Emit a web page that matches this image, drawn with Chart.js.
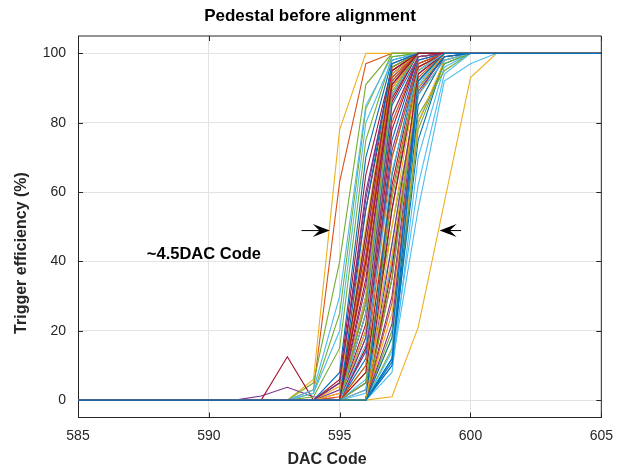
<!DOCTYPE html>
<html>
<head>
<meta charset="utf-8">
<title>Pedestal before alignment</title>
<script src="https://cdn.jsdelivr.net/npm/chart.js@4.4.1/dist/chart.umd.min.js"></script>
<style>
  html, body { margin: 0; padding: 0; background: #fff; }
  #wrap { width: 623px; height: 470px; }
</style>
</head>
<body>
<div id="wrap"><canvas id="chart"></canvas></div>
<script>
// DAC codes scanned (x) and axis ticks
const dacCodes = [585, 586, 587, 588, 589, 590, 591, 592, 593, 594, 595, 596, 597, 598, 599, 600, 601, 602, 603, 604, 605];
const xTicks = [585, 590, 595, 600, 605];
const yTicks = [0, 20, 40, 60, 80, 100];

// MATLAB default colour order, cycled over the channels
const lineColors = ['#0072BD', '#D95319', '#EDB120', '#7E2F8E', '#77AC30', '#4DBEEE', '#A2142F'];

// trigger efficiency (%) per channel, one value per DAC code
const efficiency = [
  [0, 0, 0, 0, 0, 0, 0, 0,   0, 0, 0, 30, 92, 100, 100, 100, 100, 100, 100, 100, 100],
  [0, 0, 0, 0, 0, 0, 0, 0,   0, 3, 63, 97, 100, 100, 100, 100, 100, 100, 100, 100, 100],
  [0, 0, 0, 0, 0, 0, 0, 0,   0, 6, 78, 100, 100, 100, 100, 100, 100, 100, 100, 100, 100],
  [0, 0, 0, 0, 0, 0, 0, 1.2, 3.7, 1, 0, 25, 88, 100, 100, 100, 100, 100, 100, 100, 100],
  [0, 0, 0, 0, 0, 0, 0, 0,   0, 5, 40, 91, 100, 100, 100, 100, 100, 100, 100, 100, 100],
  [0, 0, 0, 0, 0, 0, 0, 0,   0, 0, 0, 2, 35, 90, 100, 100, 100, 100, 100, 100, 100],
  [0, 0, 0, 0, 0, 0, 0, 0,   12.5, 0, 5, 55, 94, 100, 100, 100, 100, 100, 100, 100, 100],

  [0, 0, 0, 0, 0, 0, 0, 0,   0, 0, 0, 12, 75, 99, 100, 100, 100, 100, 100, 100, 100],
  [0, 0, 0, 0, 0, 0, 0, 0,   0, 0, 2, 45, 95, 100, 100, 100, 100, 100, 100, 100, 100],
  [0, 0, 0, 0, 0, 0, 0, 0,   0, 0, 0, 0, 1, 21, 57, 93, 100, 100, 100, 100, 100],
  [0, 0, 0, 0, 0, 0, 0, 0,   0, 0, 0, 5, 55, 94, 100, 100, 100, 100, 100, 100, 100],
  [0, 0, 0, 0, 0, 0, 0, 0,   0, 2, 25, 84, 100, 100, 100, 100, 100, 100, 100, 100, 100],
  [0, 0, 0, 0, 0, 0, 0, 0,   0, 0, 0, 0, 10, 55, 92, 97, 100, 100, 100, 100, 100],
  [0, 0, 0, 0, 0, 0, 0, 0,   0, 0, 0, 35, 90, 100, 100, 100, 100, 100, 100, 100, 100],

  [0, 0, 0, 0, 0, 0, 0, 0,   0, 0, 8, 70, 98, 100, 100, 100, 100, 100, 100, 100, 100],
  [0, 0, 0, 0, 0, 0, 0, 0,   0, 0, 0, 18, 80, 99, 100, 100, 100, 100, 100, 100, 100],
  [0, 0, 0, 0, 0, 0, 0, 0,   0, 0, 0, 8, 65, 96, 100, 100, 100, 100, 100, 100, 100],
  [0, 0, 0, 0, 0, 0, 0, 0,   0, 0, 3, 60, 95, 100, 100, 100, 100, 100, 100, 100, 100],
  [0, 0, 0, 0, 0, 0, 0, 0,   0, 0, 0, 10, 50, 88, 98, 100, 100, 100, 100, 100, 100],
  [0, 0, 0, 0, 0, 0, 0, 0,   0, 3, 30, 85, 99, 100, 100, 100, 100, 100, 100, 100, 100],
  [0, 0, 0, 0, 0, 0, 0, 0,   0, 0, 0, 22, 87, 100, 100, 100, 100, 100, 100, 100, 100],

  [0, 0, 0, 0, 0, 0, 0, 0,   0, 0, 0, 0, 12, 75, 98, 100, 100, 100, 100, 100, 100],
  [0, 0, 0, 0, 0, 0, 0, 0,   0, 0, 0, 3, 60, 95, 100, 100, 100, 100, 100, 100, 100],
  [0, 0, 0, 0, 0, 0, 0, 0,   0, 0, 4, 50, 96, 100, 100, 100, 100, 100, 100, 100, 100],
  [0, 0, 0, 0, 0, 0, 0, 0,   0, 0, 0, 0, 30, 90, 100, 100, 100, 100, 100, 100, 100],
  [0, 0, 0, 0, 0, 0, 0, 0,   0, 0, 0, 15, 70, 97, 100, 100, 100, 100, 100, 100, 100],
  [0, 0, 0, 0, 0, 0, 0, 0,   0, 0, 0, 0, 8, 70, 96, 100, 100, 100, 100, 100, 100],
  [0, 0, 0, 0, 0, 0, 0, 0,   0, 0, 6, 65, 96, 100, 100, 100, 100, 100, 100, 100, 100],

  [0, 0, 0, 0, 0, 0, 0, 0,   0, 0, 0, 40, 94, 100, 100, 100, 100, 100, 100, 100, 100],
  [0, 0, 0, 0, 0, 0, 0, 0,   0, 0, 0, 0, 40, 93, 100, 100, 100, 100, 100, 100, 100],
  [0, 0, 0, 0, 0, 0, 0, 0,   0, 0, 0, 0, 25, 85, 99, 100, 100, 100, 100, 100, 100],
  [0, 0, 0, 0, 0, 0, 0, 0,   0, 0, 0, 14, 72, 98, 100, 100, 100, 100, 100, 100, 100],
  [0, 0, 0, 0, 0, 0, 0, 0,   0, 1, 15, 75, 99, 100, 100, 100, 100, 100, 100, 100, 100],
  [0, 0, 0, 0, 0, 0, 0, 0,   0, 0, 0, 6, 45, 92, 100, 100, 100, 100, 100, 100, 100],
  [0, 0, 0, 0, 0, 0, 0, 0,   0, 0, 0, 28, 86, 100, 100, 100, 100, 100, 100, 100, 100],

  [0, 0, 0, 0, 0, 0, 0, 0,   0, 0, 0, 0, 10, 80, 97, 100, 100, 100, 100, 100, 100],
  [0, 0, 0, 0, 0, 0, 0, 0,   0, 0, 1, 38, 92, 100, 100, 100, 100, 100, 100, 100, 100],
  [0, 0, 0, 0, 0, 0, 0, 0,   0, 0, 0, 0, 50, 95, 100, 100, 100, 100, 100, 100, 100],
  [0, 0, 0, 0, 0, 0, 0, 0,   0, 0, 0, 0, 45, 92, 100, 100, 100, 100, 100, 100, 100],
  [0, 0, 0, 0, 0, 0, 0, 0,   0, 0, 0, 0, 20, 82, 95, 100, 100, 100, 100, 100, 100],
  [0, 0, 0, 0, 0, 0, 0, 0,   0, 2, 20, 80, 98, 100, 100, 100, 100, 100, 100, 100, 100],
  [0, 0, 0, 0, 0, 0, 0, 0,   0, 0, 0, 8, 62, 97, 100, 100, 100, 100, 100, 100, 100],

  [0, 0, 0, 0, 0, 0, 0, 0,   0, 0, 0, 20, 85, 99, 100, 100, 100, 100, 100, 100, 100],
  [0, 0, 0, 0, 0, 0, 0, 0,   0, 0, 0, 0, 35, 96, 100, 100, 100, 100, 100, 100, 100],
  [0, 0, 0, 0, 0, 0, 0, 0,   0, 0, 0, 30, 90, 100, 100, 100, 100, 100, 100, 100, 100],
  [0, 0, 0, 0, 0, 0, 0, 0,   0, 0, 5, 58, 97, 100, 100, 100, 100, 100, 100, 100, 100],
  [0, 0, 0, 0, 0, 0, 0, 0,   0, 0, 0, 0, 15, 78, 97, 100, 100, 100, 100, 100, 100],
  [0, 0, 0, 0, 0, 0, 0, 0,   0, 0, 0, 0, 12, 62, 94, 100, 100, 100, 100, 100, 100],
  [0, 0, 0, 0, 0, 0, 0, 0,   0, 0, 0, 0, 55, 96, 100, 100, 100, 100, 100, 100, 100],

  [0, 0, 0, 0, 0, 0, 0, 0,   0, 0, 0, 0, 11, 85, 99, 100, 100, 100, 100, 100, 100],
  [0, 0, 0, 0, 0, 0, 0, 0,   0, 0, 0, 25, 88, 100, 100, 100, 100, 100, 100, 100, 100],
  [0, 0, 0, 0, 0, 0, 0, 0,   0, 0, 0, 0, 18, 80, 98, 100, 100, 100, 100, 100, 100],
  [0, 0, 0, 0, 0, 0, 0, 0,   0, 0, 0, 45, 93, 100, 100, 100, 100, 100, 100, 100, 100],
  [0, 0, 0, 0, 0, 0, 0, 0,   0, 0, 0, 5, 58, 95, 100, 100, 100, 100, 100, 100, 100],
  [0, 0, 0, 0, 0, 0, 0, 0,   0, 0, 0, 3, 40, 91, 100, 100, 100, 100, 100, 100, 100],
  [0, 0, 0, 0, 0, 0, 0, 0,   0, 0, 0, 15, 78, 99, 100, 100, 100, 100, 100, 100, 100],

  [0, 0, 0, 0, 0, 0, 0, 0,   0, 0, 0, 0, 65, 98, 100, 100, 100, 100, 100, 100, 100],
  [0, 0, 0, 0, 0, 0, 0, 0,   0, 0, 0, 0, 28, 88, 100, 100, 100, 100, 100, 100, 100],
  [0, 0, 0, 0, 0, 0, 0, 0,   0, 0, 2, 42, 94, 100, 100, 100, 100, 100, 100, 100, 100],
  [0, 0, 0, 0, 0, 0, 0, 0,   0, 0, 0, 0, 22, 89, 99, 100, 100, 100, 100, 100, 100],
  [0, 0, 0, 0, 0, 0, 0, 0,   0, 0, 0, 48, 96, 100, 100, 100, 100, 100, 100, 100, 100],
  [0, 0, 0, 0, 0, 0, 0, 0,   0, 0, 0, 0, 14, 88, 98, 100, 100, 100, 100, 100, 100],
  [0, 0, 0, 0, 0, 0, 0, 0,   0, 0, 0, 0, 38, 94, 100, 100, 100, 100, 100, 100, 100],

  [0, 0, 0, 0, 0, 0, 0, 0,   0, 0, 0, 0, 12, 90, 99, 100, 100, 100, 100, 100, 100],
  [0, 0, 0, 0, 0, 0, 0, 0,   0, 0, 0, 42, 93, 100, 100, 100, 100, 100, 100, 100, 100],
  [0, 0, 0, 0, 0, 0, 0, 0,   0, 0, 0, 20, 82, 99, 100, 100, 100, 100, 100, 100, 100],
  [0, 0, 0, 0, 0, 0, 0, 0,   0, 0, 0, 33, 91, 100, 100, 100, 100, 100, 100, 100, 100],
  [0, 0, 0, 0, 0, 0, 0, 0,   0, 0, 0, 0, 35, 92, 100, 100, 100, 100, 100, 100, 100],
  [0, 0, 0, 0, 0, 0, 0, 0,   0, 0, 0, 25, 88, 100, 100, 100, 100, 100, 100, 100, 100],
  [0, 0, 0, 0, 0, 0, 0, 0,   0, 0, 0, 48, 95, 100, 100, 100, 100, 100, 100, 100, 100],

  [0, 0, 0, 0, 0, 0, 0, 0,   0, 0, 0, 55, 97, 100, 100, 100, 100, 100, 100, 100, 100],
  [0, 0, 0, 0, 0, 0, 0, 0,   0, 0, 0, 10, 70, 97, 100, 100, 100, 100, 100, 100, 100],
  [0, 0, 0, 0, 0, 0, 0, 0,   0, 0, 0, 0, 42, 90, 100, 100, 100, 100, 100, 100, 100],
  [0, 0, 0, 0, 0, 0, 0, 0,   0, 0, 0, 18, 82, 99, 100, 100, 100, 100, 100, 100, 100],
  [0, 0, 0, 0, 0, 0, 0, 0,   0, 0, 0, 28, 89, 100, 100, 100, 100, 100, 100, 100, 100],
  [0, 0, 0, 0, 0, 0, 0, 0,   0, 0, 0, 16, 66, 95, 100, 100, 100, 100, 100, 100, 100],
  [0, 0, 0, 0, 0, 0, 0, 0,   0, 0, 0, 40, 91, 100, 100, 100, 100, 100, 100, 100, 100],

  [0, 0, 0, 0, 0, 0, 0, 0,   0, 0, 0, 0, 18, 92, 100, 100, 100, 100, 100, 100, 100]
];

const FONT = '"Liberation Sans", Arial, Helvetica, sans-serif';
const INK = '#262626';

// text and annotation: arrows marking the spread, in data units
const chartTitle = 'Pedestal before alignment';
const xTitle = 'DAC Code';
const yTitle = 'Trigger efficiency (%)';
const spreadLabel = '~4.5DAC Code';
const leftArrow = { from: 593.54, to: 594.62, y: 48.9 };
const rightArrow = { from: 599.64, to: 598.82, y: 48.9 };
const labelPos = { x: 587.63, y: 42.1 };

const datasets = efficiency.map((vals, i) => ({
  label: 'ch' + (i + 1),
  data: vals.map((v, k) => ({ x: dacCodes[k], y: v })),
  borderColor: lineColors[i % lineColors.length],
  borderWidth: 1.1,
  pointRadius: 0,
  tension: 0,
  fill: false,
  order: efficiency.length - i   // later channels on top, like MATLAB
}));

function drawArrow(ctx, x0, x1, y) {
  const dir = Math.sign(x1 - x0);
  const headLen = 17, headW = 6.5;
  ctx.beginPath();
  ctx.moveTo(x0, y);
  ctx.lineTo(x1 - dir * headLen * 0.6, y);
  ctx.stroke();
  ctx.beginPath();
  ctx.moveTo(x1, y);
  ctx.lineTo(x1 - dir * headLen, y - headW);
  ctx.lineTo(x1 - dir * headLen * 0.6, y);
  ctx.lineTo(x1 - dir * headLen, y + headW);
  ctx.closePath();
  ctx.fill();
}

const matlabAxes = {
  id: 'matlabAxes',
  beforeDatasetsDraw(chart) {
    const { ctx, chartArea: a, scales: { x, y } } = chart;
    ctx.save();
    ctx.strokeStyle = INK;
    ctx.lineWidth = 1;
    ctx.beginPath();
    xTicks.forEach(v => {
      const px = Math.round(x.getPixelForValue(v)) + 0.5;
      ctx.moveTo(px, a.bottom); ctx.lineTo(px, a.bottom - 5);
      ctx.moveTo(px, a.top); ctx.lineTo(px, a.top + 5);
    });
    yTicks.forEach(v => {
      const py = Math.round(y.getPixelForValue(v)) + 0.5;
      ctx.moveTo(a.left, py); ctx.lineTo(a.left + 5, py);
      ctx.moveTo(a.right, py); ctx.lineTo(a.right - 5, py);
    });
    ctx.stroke();
    ctx.restore();
  },
  afterDraw(chart) {
    const { ctx, chartArea: a, scales: { x, y } } = chart;
    ctx.save();
    // box
    ctx.strokeStyle = INK;
    ctx.lineWidth = 1;
    ctx.beginPath();
    ctx.moveTo(a.left, a.top); ctx.lineTo(a.right, a.top); ctx.lineTo(a.right, a.bottom);
    ctx.stroke();

    // title and axis labels
    ctx.textAlign = 'center';
    ctx.textBaseline = 'middle';
    ctx.fillStyle = '#000';
    ctx.font = 'bold 17px ' + FONT;
    ctx.fillText(chartTitle, 310, 16);
    ctx.fillStyle = INK;
    ctx.font = 'bold 16px ' + FONT;
    ctx.fillText(xTitle, 327, 460);
    ctx.save();
    ctx.translate(22, 253);
    ctx.rotate(-Math.PI / 2);
    ctx.fillText(yTitle, 0, 0);
    ctx.restore();

    // spread annotation
    ctx.fillStyle = '#000';
    ctx.strokeStyle = '#000';
    ctx.lineWidth = 1;
    drawArrow(ctx, x.getPixelForValue(leftArrow.from), x.getPixelForValue(leftArrow.to), y.getPixelForValue(leftArrow.y));
    drawArrow(ctx, x.getPixelForValue(rightArrow.from), x.getPixelForValue(rightArrow.to), y.getPixelForValue(rightArrow.y));
    ctx.font = 'bold 16.5px ' + FONT;
    ctx.textAlign = 'left';
    ctx.fillText(spreadLabel, x.getPixelForValue(labelPos.x), y.getPixelForValue(labelPos.y));
    ctx.restore();
  }
};

new Chart(document.getElementById('chart'), {
  type: 'line',
  data: { datasets },
  options: {
    responsive: true,
    maintainAspectRatio: false,
    animation: false,
    layout: { padding: { top: 36, right: 21, left: 0, bottom: 0 } },
    plugins: {
      legend: { display: false },
      tooltip: { enabled: false },
      title: { display: false }
    },
    scales: {
      x: {
        type: 'linear',
        min: 585,
        max: 605,
        afterBuildTicks: s => { s.ticks = xTicks.map(v => ({ value: v })); },
        afterFit: s => { s.height = 52.5; },
        grid: { color: '#e3e3e3', lineWidth: 1, drawTicks: false },
        border: { display: true, color: INK, width: 1 },
        ticks: { color: INK, font: { family: FONT, size: 14 }, padding: 10, maxRotation: 0 }
      },
      y: {
        type: 'linear',
        min: -5,
        max: 105,
        afterBuildTicks: s => { s.ticks = yTicks.map(v => ({ value: v })); },
        afterFit: s => { s.width = 78; },
        grid: { color: '#e3e3e3', lineWidth: 1, drawTicks: false },
        border: { display: true, color: INK, width: 1 },
        ticks: { color: INK, font: { family: FONT, size: 14 }, padding: 12 }
      }
    }
  },
  plugins: [matlabAxes]
});
</script>
</body>
</html>
